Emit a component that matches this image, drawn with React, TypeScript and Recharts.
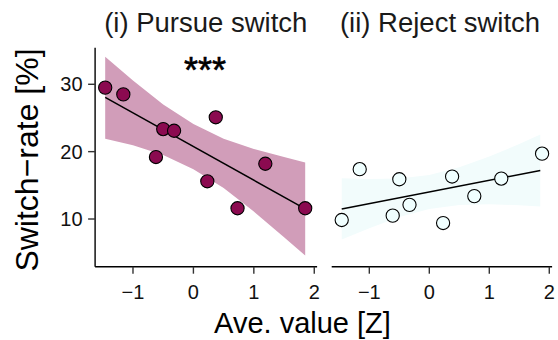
import React from "react";
import {
  ComposedChart,
  XAxis,
  YAxis,
  Area,
  Line,
  Scatter,
  ReferenceDot,
} from "recharts";

// Ave. value [Z] for each participant (same in both panels)
const pursueX = [-1.46, -1.16, -0.5, -0.32, -0.62, 0.37, 0.23, 1.19, 0.73, 1.85];
const pursueY = [29.5, 28.5, 23.35, 23.1, 19.2, 25.1, 15.6, 18.2, 11.6, 11.6];

const rejectX = [-1.46, -1.16, -0.5, -0.61, -0.33, 0.38, 0.23, 0.75, 1.2, 1.88];
const rejectY = [9.85, 17.4, 15.9, 10.5, 12.1, 16.3, 9.4, 13.4, 16.0, 19.7];

// fitted line end points
const fitX = [-1.46, 1.85];
const pursueFitY = [28.05, 11.5];
const rejectFitY = [11.5, 17.2];

// confidence band readings
const bandX = [-1.46, -1.0, -0.5, 0, 0.5, 1.0, 1.5, 1.85];
const pursueLo = [21.9, 20.95, 19.5, 17.4, 14.6, 11.1, 7.3, 4.6];
const pursueHi = [34.1, 30.55, 27.0, 24.1, 21.9, 20.4, 19.2, 18.4];
const rejectLo = [6.95, 8.64, 10.28, 11.47, 12.07, 12.19, 12.05, 11.85];
const rejectHi = [16.05, 15.94, 16.02, 16.55, 17.67, 19.27, 21.13, 22.55];

const xTicks = [-1, 0, 1, 2];
const yTicks = [10, 20, 30];
const xDomain = [-1.627, 2.047];
const yDomain = [2.92, 35.43];

const FONT = "'Liberation Sans', Arial, Helvetica, sans-serif";
const MAROON = "#8B0A50";
const AZURE = "#F0FFFF";

const pts = (xs: number[], ys: number[]) => xs.map((x, i) => ({ x, y: ys[i] }));
const band = (xs: number[], lo: number[], hi: number[]) =>
  xs.map((x, i) => ({ x, band: [lo[i], hi[i]] }));

const fmt = (v: number) => String(v).replace("-", "\u2212");

const tickStyle = { fontSize: 20, fill: "#111", fontFamily: FONT };

const dotShape = (fill: string) => (props: any) => (
  <circle cx={props.cx} cy={props.cy} r={6.6} fill={fill} stroke="#000" strokeWidth={1.1} />
);

function Panel({
  left,
  width,
  margin,
  showY,
  pointData,
  fitData,
  bandData,
  fill,
  bandFill,
  stars,
}: any) {
  return (
    <div style={{ position: "absolute", left, top: 0 }}>
      <ComposedChart width={width} height={340} margin={margin}>
        <XAxis
          dataKey="x"
          type="number"
          domain={xDomain}
          ticks={xTicks}
          tickFormatter={fmt}
          allowDataOverflow
          height={73.3}
          tickSize={7}
          tickMargin={11}
          tick={tickStyle}
          axisLine={{ stroke: "#000", strokeWidth: 1.4 }}
          tickLine={{ stroke: "#333", strokeWidth: 1.4 }}
        />
        <YAxis
          type="number"
          domain={yDomain}
          ticks={yTicks}
          allowDataOverflow
          hide={!showY}
          width={95.1}
          tickSize={7}
          tickMargin={5.5}
          tick={tickStyle}
          axisLine={{ stroke: "#000", strokeWidth: 1.4 }}
          tickLine={{ stroke: "#333", strokeWidth: 1.4 }}
        />
        <Area
          data={bandData}
          dataKey="band"
          type="linear"
          fill={bandFill}
          fillOpacity={1}
          stroke="none"
          isAnimationActive={false}
        />
        <Line
          data={fitData}
          dataKey="y"
          type="linear"
          stroke="#000"
          strokeWidth={1.5}
          dot={false}
          activeDot={false}
          isAnimationActive={false}
        />
        <Scatter data={pointData} dataKey="y" shape={dotShape(fill)} isAnimationActive={false} />
        {stars ? (
          <ReferenceDot
            x={0.19}
            y={31.6}
            r={0}
            shape={(p: any) => (
              <text
                x={p.cx}
                y={p.cy}
                textAnchor="middle"
                fontSize={36}
                fontFamily={FONT}
                fill="#000"
                stroke="#000"
                strokeWidth={0.6}
                dominantBaseline="middle"
              >
                ***
              </text>
            )}
          />
        ) : null}
      </ComposedChart>
    </div>
  );
}

export default function App() {
  return (
    <div
      style={{
        position: "absolute",
        left: 0,
        top: 0,
        width: 558,
        height: 340,
        background: "#fff",
        fontFamily: FONT,
      }}
    >
      <Panel
        left={0}
        width={330}
        margin={{ top: 47.7, right: 12.9, bottom: 0, left: 0 }}
        showY
        pointData={pts(pursueX, pursueY)}
        fitData={pts(fitX, pursueFitY)}
        bandData={band(bandX, pursueLo, pursueHi)}
        fill={MAROON}
        bandFill="#D19DB9"
        stars
      />
      <Panel
        left={320}
        width={238}
        margin={{ top: 47.7, right: 5.9, bottom: 0, left: 11.7 }}
        showY={false}
        pointData={pts(rejectX, rejectY)}
        fitData={pts(fitX, rejectFitY)}
        bandData={band(bandX, rejectLo, rejectHi)}
        fill={AZURE}
        bandFill="#F2FCFC"
      />
      <svg
        width={558}
        height={340}
        style={{ position: "absolute", left: 0, top: 0, pointerEvents: "none" }}
      >
        <text x={205.8} y={32.3} textAnchor="middle" fontSize={27.5} fontFamily={FONT} fill="#1a1a1a">
          (i) Pursue switch
        </text>
        <text x={440} y={32.3} textAnchor="middle" fontSize={27.5} fontFamily={FONT} fill="#1a1a1a">
          (ii) Reject switch
        </text>
        <text x={302.5} y={333} textAnchor="middle" fontSize={29} fontFamily={FONT} fill="#000">
          Ave. value [Z]
        </text>
        <text
          transform="translate(38.3,160) rotate(-90)"
          textAnchor="middle"
          fontSize={32}
          fontFamily={FONT}
          fill="#000"
        >
          Switch{"\u2212"}rate [%]
        </text>
      </svg>
    </div>
  );
}
